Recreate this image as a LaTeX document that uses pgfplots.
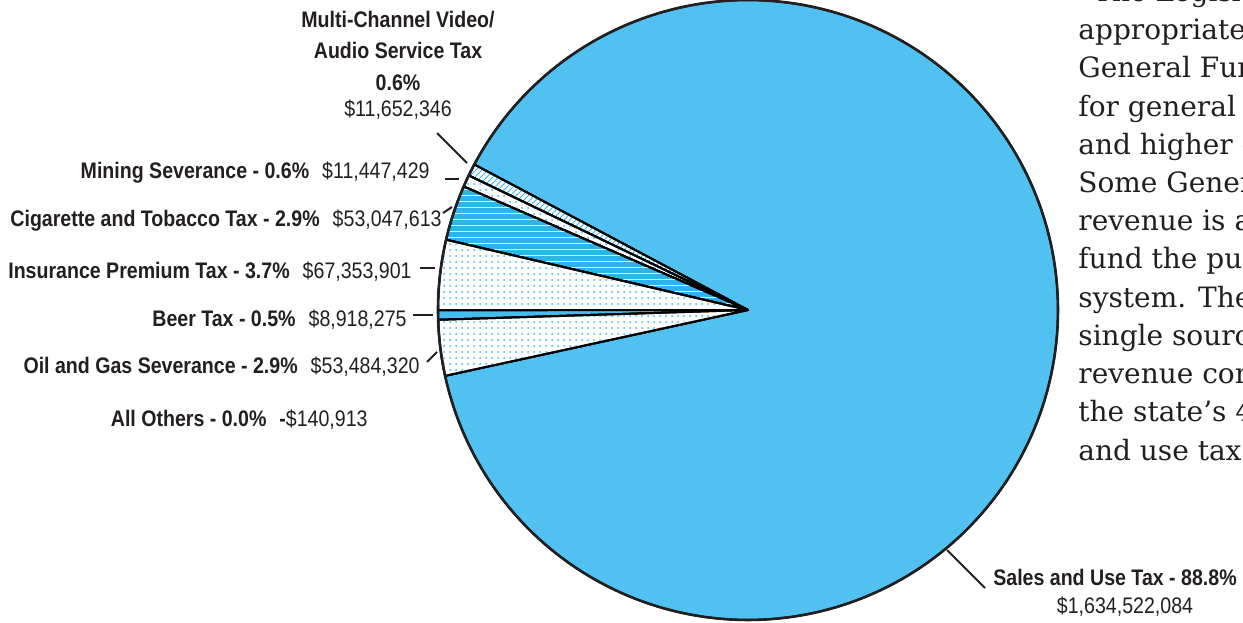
\documentclass[border=0pt]{standalone}
\usepackage{pgfplots}
\pgfplotsset{compat=1.18}
\usetikzlibrary{patterns}
\usepackage{fontspec}
\setmainfont[FakeStretch=0.87]{Liberation Sans}
\newfontfamily\bodyfont{DejaVu Serif}

\definecolor{salesblue}{RGB}{80,193,240}
\definecolor{cigblue}{RGB}{45,180,237}
\definecolor{beerblue}{RGB}{70,188,238}
\definecolor{dotblue}{RGB}{60,185,240}
\definecolor{txt}{RGB}{35,31,32}

% data (dollars)
\def\vMulti{11652346}
\def\vMining{11447429}
\def\vCig{53047613}
\def\vIns{67353901}
\def\vBeer{8918275}
\def\vOil{53484320}
\def\vOther{-140913}
\def\vSales{1634522084}

\edef\tot{\fpeval{\vMulti+\vMining+\vCig+\vIns+\vBeer+\vOil+\vOther+\vSales}}
\def\aA{152}
\edef\aB{\fpeval{\aA+360*\vMulti/\tot}}
\edef\aC{\fpeval{\aB+360*\vMining/\tot}}
\edef\aD{\fpeval{\aC+360*\vCig/\tot}}
\edef\aE{\fpeval{\aD+360*\vIns/\tot}}
\edef\aF{\fpeval{\aE+360*\vBeer/\tot}}
\edef\aG{\fpeval{\aF+360*\vOil/\tot}}
\edef\aH{\fpeval{\aG+360*\vOther/\tot}}
\edef\aI{\fpeval{\aA+360}}

\def\cx{748}
\def\cy{312}
\def\rr{310}

\newcommand\pieslice[3][]{%
  \addplot[draw=black, line width=1pt, line join=round, #1, domain=#2:#3, samples=120, variable=\t]
    ({\cx+\rr*cos(\t)},{\cy+\rr*sin(\t)}) -- (axis cs:\cx,\cy) -- cycle;}

\begin{document}
\begin{tikzpicture}
\useasboundingbox (0,0) rectangle (621.5pt,311pt);
\begin{axis}[x=0.5pt, y=0.5pt, xmin=0, xmax=1243, ymin=0, ymax=622,
  hide axis, scale only axis, clip=false, anchor=south west, at={(0,0)}]

\pieslice[fill=salesblue]{\aH}{\aI}
\pieslice[fill=white, postaction={pattern=north east lines, pattern color=dotblue}]{\aA}{\aB}
\pieslice[fill=white, postaction={pattern=dots, pattern color=dotblue}]{\aB}{\aC}
\pieslice[fill=cigblue, postaction={pattern=horizontal lines, pattern color=white!80!cigblue}]{\aC}{\aD}
\pieslice[fill=white, postaction={pattern=dots, pattern color=dotblue}]{\aD}{\aE}
\pieslice[fill=beerblue]{\aE}{\aF}
\pieslice[fill=white, postaction={pattern=dots, pattern color=dotblue}]{\aF}{\aG}

% outline
\addplot[draw=txt, line width=1.3pt, domain=0:360, samples=240, variable=\t]
  ({\cx+\rr*cos(\t)},{\cy+\rr*sin(\t)});

% leader lines
\addplot[txt, line width=1pt] coordinates {(437,489) (467,459)};
\addplot[txt, line width=1pt] coordinates {(445,443) (459,443)};
\addplot[txt, line width=1pt] coordinates {(443,409) (452,415)};
\addplot[txt, line width=1pt] coordinates {(420,354) (435,354)};
\addplot[txt, line width=1pt] coordinates {(413,307) (433,307)};
\addplot[txt, line width=1pt] coordinates {(427,260) (437,270)};
\addplot[txt, line width=1pt] coordinates {(947,72) (985,34)};

% labels
\begin{scope}[every node/.style={font=\fontsize{11.25pt}{13pt}\selectfont, text=txt, inner sep=0pt}]
\node[anchor=base] at (axis cs:398,594) {\textbf{Multi-Channel Video/}};
\node[anchor=base] at (axis cs:398,563) {\textbf{Audio Service Tax}};
\node[anchor=base] at (axis cs:398,531) {\textbf{0.6\%}};
\node[anchor=base] at (axis cs:398,505) {\$11,652,346};
\node[anchor=base east] at (axis cs:430,443) {\textbf{Mining Severance - 0.6\%}\hspace{6.5pt}\$11,447,429};
\node[anchor=base east] at (axis cs:442,395) {\textbf{Cigarette and Tobacco Tax - 2.9\%}\hspace{6.5pt}\$53,047,613};
\node[anchor=base east] at (axis cs:412,343) {\textbf{Insurance Premium Tax - 3.7\%}\hspace{6.5pt}\$67,353,901};
\node[anchor=base east] at (axis cs:407,295) {\textbf{Beer Tax - 0.5\%}\hspace{6.5pt}\$8,918,275};
\node[anchor=base east] at (axis cs:420,249) {\textbf{Oil and Gas Severance - 2.9\%}\hspace{6.5pt}\$53,484,320};
\node[anchor=base east] at (axis cs:368,195) {\textbf{All Others - 0.0\%}\hspace{6.5pt}\textbf{-}\$140,913};
\node[anchor=base] at (axis cs:1115,37) {\textbf{Sales and Use Tax - 88.8\%}};
\node[anchor=base] at (axis cs:1125,9) {\$1,634,522,084};
\end{scope}

% body text (cut at the right edge)
\begin{scope}[every node/.style={font=\bodyfont\fontsize{14pt}{17pt}\selectfont, text=txt, inner sep=0pt, anchor=base west}]
\node at (axis cs:1093,620) {The Legislature};
\node at (axis cs:1078,582) {appropriates money from the};
\node at (axis cs:1078,544) {General Fund};
\node at (axis cs:1078,505) {for general government};
\node at (axis cs:1078,467) {and higher education.};
\node at (axis cs:1078,429) {Some General Fund};
\node at (axis cs:1078,391) {revenue is also used to};
\node at (axis cs:1078,353) {fund the public school};
\node at (axis cs:1078,314) {system. The largest};
\node at (axis cs:1078,276) {single source of General Fund};
\node at (axis cs:1078,238) {revenue comes from};
\node at (axis cs:1078,200) {the state’s 4.5\% sales};
\node at (axis cs:1078,162) {and use tax.};
\end{scope}
\end{axis}
\end{tikzpicture}
\end{document}
